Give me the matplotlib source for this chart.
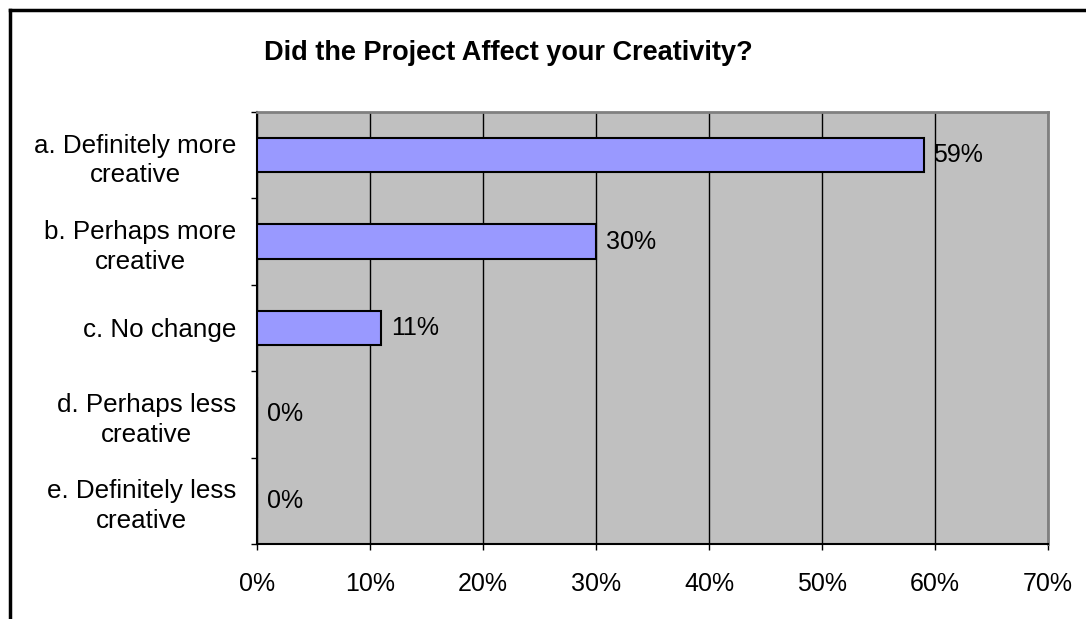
import matplotlib
matplotlib.use("Agg")
import matplotlib.pyplot as plt
from matplotlib.lines import Line2D
import numpy as np

plt.rcParams['font.family'] = ['Liberation Sans', 'DejaVu Sans']

title = "Did the Project Affect your Creativity?"
categories = ["a. Definitely more\ncreative", "b. Perhaps more\ncreative", "c. No change",
              "d. Perhaps less\ncreative", "e. Definitely less\ncreative"]
values = [59, 30, 11, 0, 0]
xticks = [0, 10, 20, 30, 40, 50, 60, 70]

W, H = 1086, 619
fig = plt.figure(figsize=(W / 100, H / 100), dpi=100)
fig.patch.set_facecolor('white')

left, right, top, bottom = 257, 1048, 112, 544
ax = fig.add_axes([left / W, 1 - bottom / H, (right - left) / W, (bottom - top) / H])
ax.set_facecolor('#C0C0C0')

y = np.arange(len(categories))
ax.barh(y, values, height=0.4, color='#9999FF', edgecolor='black', linewidth=1.5, zorder=3)

ax.set_xlim(0, 70)
ax.set_ylim(len(categories) - 0.5, -0.5)

ax.set_xticks(xticks)
ax.set_xticklabels([f"{t}%" for t in xticks], fontsize=18)
ax.tick_params(axis='x', direction='out', length=4, width=1, pad=16, colors='black')
ax.xaxis.grid(True, color='black', linewidth=1, zorder=1)
ax.set_axisbelow(True)

ax.set_yticks(y)
ax.set_yticklabels(categories, fontsize=18.7, multialignment='center', linespacing=1.3)
ax.tick_params(axis='y', which='major', length=0, pad=15)
ax.set_yticks(np.arange(-0.5, len(categories), 1), minor=True)
ax.tick_params(axis='y', which='minor', direction='out', length=4, width=1)

for s in ['top', 'right']:
    ax.spines[s].set_color('#808080')
    ax.spines[s].set_linewidth(2)
for s in ['left', 'bottom']:
    ax.spines[s].set_color('black')
    ax.spines[s].set_linewidth(1.5)

for yi, v in zip(y, values):
    ax.annotate(f"{v}%", xy=(v, yi), xytext=(7, 0), textcoords='offset points',
                ha='left', va='center', fontsize=18, zorder=4)

fig.text(508 / W, 1 - 53 / H, title, ha='center', va='center', fontsize=19.5, fontweight='bold')

# outer chart frame (top and left edges visible)
fig.add_artist(Line2D([10 / W, 1.0], [1 - 10 / H, 1 - 10 / H], transform=fig.transFigure,
                      color='black', linewidth=2.5))
fig.add_artist(Line2D([10 / W, 10 / W], [1 - 10 / H, 0.0], transform=fig.transFigure,
                      color='black', linewidth=2.5))

fig.savefig("out.png", dpi=100)
